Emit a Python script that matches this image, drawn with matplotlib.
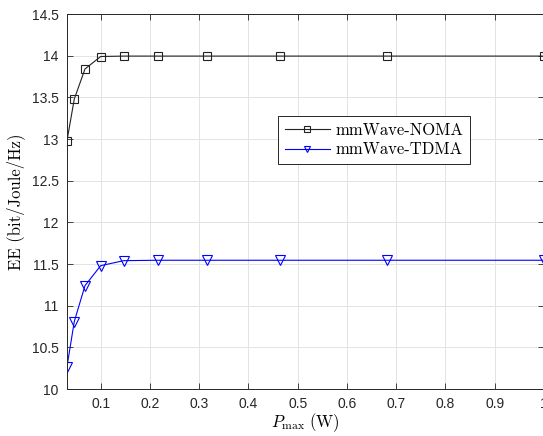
import matplotlib
matplotlib.use("Agg")
import matplotlib.pyplot as plt
from matplotlib.ticker import FuncFormatter

# data
p_max = [0.0316, 0.0464, 0.0681, 0.1, 0.1468, 0.2154, 0.3162, 0.4642, 0.6813, 1.0]
ee_noma = [12.98, 13.48, 13.84, 13.99, 13.995, 13.995, 13.995, 13.995, 13.995, 13.995]
ee_tdma = [10.27, 10.81, 11.24, 11.48, 11.54, 11.545, 11.545, 11.545, 11.545, 11.545]

x_ticks = [0.1, 0.2, 0.3, 0.4, 0.5, 0.6, 0.7, 0.8, 0.9, 1.0]
y_ticks = [10, 10.5, 11, 11.5, 12, 12.5, 13, 13.5, 14, 14.5]

plt.rcParams['mathtext.fontset'] = 'cm'
plt.rcParams['font.family'] = ['Liberation Sans', 'DejaVu Sans']

fig = plt.figure(figsize=(5.43, 4.36), dpi=100)
ax = fig.add_axes([67 / 543, 1 - 389 / 436, (544 - 67) / 543, (389 - 14) / 436])

ax.plot(p_max, ee_noma, color='#222222', lw=0.8, marker='s', ms=5.5,
        mfc='none', mec='#222222', mew=0.8, label='mmWave-NOMA')
ax.plot(p_max, ee_tdma, color='#0000ff', lw=0.8, marker='v', ms=6.5,
        mfc='none', mec='#0000ff', mew=0.8, label='mmWave-TDMA')

ax.set_xlim(p_max[0], p_max[-1])
ax.set_ylim(10, 14.5)
ax.set_xticks(x_ticks)
ax.set_yticks(y_ticks)
ax.xaxis.set_major_formatter(FuncFormatter(lambda v, p: '%g' % v))
ax.yaxis.set_major_formatter(FuncFormatter(lambda v, p: '%g' % v))
ax.tick_params(direction='in', top=True, right=True, length=4, width=0.6,
               labelsize=10, colors='#262626', pad=6)
ax.grid(True, color='#e3e3e3', lw=0.7)
ax.set_axisbelow(True)
for s in ax.spines.values():
    s.set_color('#262626')
    s.set_linewidth(0.7)

ax.set_xlabel(r'$P_{\max}\ \mathrm{(W)}$', fontsize=12, labelpad=0)
ax.set_ylabel('EE (bit/Joule/Hz)', fontfamily='cmr10', fontsize=12, labelpad=5)

leg = ax.legend(loc='upper left', bbox_to_anchor=(0.442, 0.728), fancybox=False,
                edgecolor='#262626', framealpha=1, borderaxespad=0,
                prop={'family': 'cmr10', 'size': 12}, handlelength=2.7,
                handletextpad=0.35, borderpad=0.4, labelspacing=0.25,
                markerscale=0.75)
leg.get_frame().set_linewidth(0.7)

fig.savefig('out.png', dpi=100)
